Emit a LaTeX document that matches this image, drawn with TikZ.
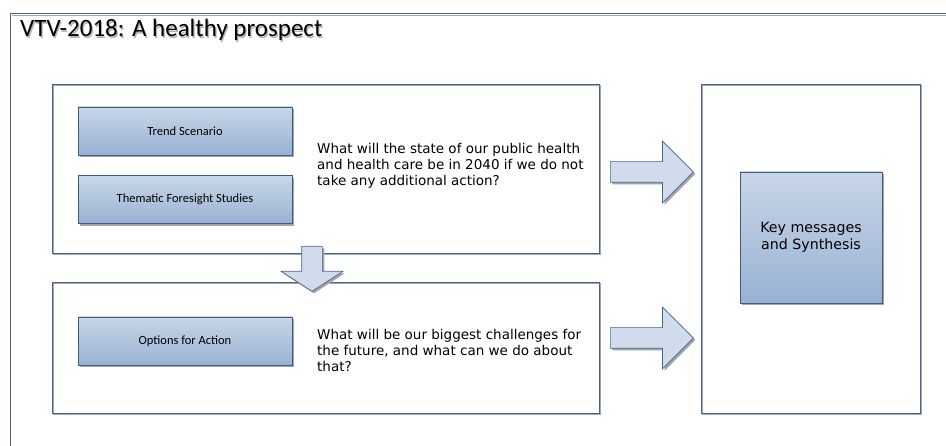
\documentclass[tikz,border=0pt]{standalone}
\usepackage{fontspec}
\setmainfont{DejaVu Sans}
\newfontfamily\calibri{Carlito}
\usetikzlibrary{positioning, shapes.arrows, shadows}

\definecolor{frameblue}{RGB}{70,100,150}
\definecolor{boxtop}{RGB}{200,214,231}
\definecolor{boxbottom}{RGB}{152,178,211}
\definecolor{arrowfill}{RGB}{208,220,235}
\definecolor{shadowgray}{RGB}{165,165,165}

\begin{document}
\begin{tikzpicture}[
        x=1pt, y=-1pt,
        panel/.style={
            rectangle,
            draw=frameblue,
            line width=0.9pt,
            inner sep=0pt,
            general shadow={draw=shadowgray, fill=none, line width=0.9pt,
                shadow xshift=1.8pt, shadow yshift=-1.8pt}
        },
        box/.style={
            rectangle,
            draw=frameblue!90!black,
            line width=0.7pt,
            top color=boxtop,
            bottom color=boxbottom,
            drop shadow={shadow xshift=2pt, shadow yshift=-2pt, fill=shadowgray, opacity=1},
            minimum width=214pt,
            minimum height=48pt,
            align=center,
            font=\calibri\fontsize{12.5}{15}\selectfont
        },
        question/.style={
            align=left,
            inner sep=0pt,
            font=\fontsize{13.5}{16}\selectfont
        },
        bigarrow/.style={
            single arrow,
            draw=frameblue,
            line width=0.7pt,
            fill=arrowfill,
            inner sep=10pt,
            single arrow head indent=0pt,
            drop shadow={shadow xshift=2pt, shadow yshift=-2pt, fill=shadowgray, opacity=1}
        }
    ]
    \useasboundingbox (0,0) rectangle (946,446);
    \clip (0,0) rectangle (946,446);

    % Rahmen der Folie
    \draw[frameblue, line width=0.9pt] (10,13) rectangle (990,490);
    \draw[shadowgray, line width=0.9pt] (12,15) -- (990,15);

    % Titel mit Schatten
    \node[anchor=base west, inner sep=0pt, text=gray!60,
          font=\calibri\fontsize{25}{30}\selectfont] (titleshadow) at (21.2,38.2) {VTV-2018: A healthy prospect};
    \node[anchor=base west, inner sep=0pt,
          font=\calibri\fontsize{25}{30}\selectfont] (title) at (20,37) {VTV-2018: A healthy prospect};

    % Rahmen der drei Bereiche
    \node[panel, minimum width=547pt, minimum height=169pt] (trendpanel) at (325.5,168.5) {};
    \node[panel, minimum width=547pt, minimum height=131pt] (optionspanel) at (325.5,347.5) {};
    \node[panel, minimum width=219pt, minimum height=329pt] (keypanel) at (810.5,248.5) {};

    % Bausteine
    \node[box] (trend) at (185,131) {Trend Scenario};
    \node[box, below=20pt of trend] (thematic) {Thematic Foresight Studies};
    \node[box] (options) at (185,341) {Options for Action};
    \node[box, minimum width=142pt, minimum height=131pt,
          font=\fontsize{14.2}{17}\selectfont] (key) at (811,237.5) {Key messages\\and Synthesis};

    % Fragen
    \node[question, anchor=west] (q1) at (317,166) {What will the state of our public health\\and health care be in 2040 if we do not\\take any additional action?};
    \node[question, anchor=west] (q2) at (317,350) {What will be our biggest challenges for\\the future, and what can we do about\\that?};

    % Blockpfeile
    \node[bigarrow, minimum height=83pt, single arrow head extend=20.5pt,
          single arrow tip angle=90, anchor=tail] (a1) at (610,172) {};
    \node[bigarrow, minimum height=83pt, single arrow head extend=20.5pt,
          single arrow tip angle=90, anchor=tail] (a2) at (610,338) {};
    \node[bigarrow, minimum height=45pt, single arrow head extend=20.5pt,
          single arrow tip angle=114, shape border rotate=270, anchor=tail] (a3) at (312,246) {};

\end{tikzpicture}
\end{document}
